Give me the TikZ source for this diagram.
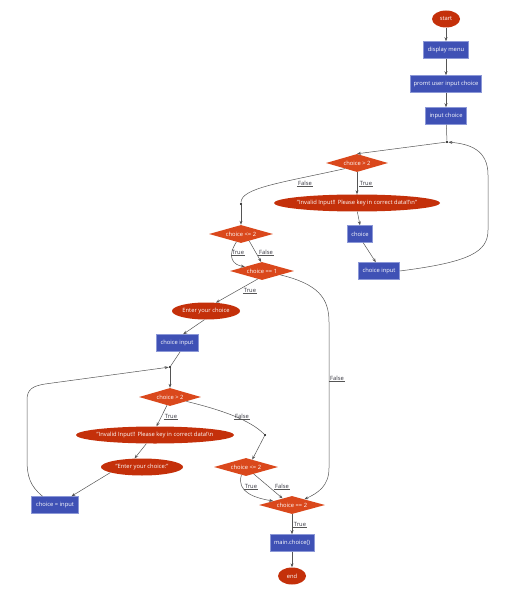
\documentclass[tikz,border=0pt]{standalone}
\usepackage{fontspec}
\setmainfont{Open Sans}
\usetikzlibrary{shapes.geometric,arrows.meta}
\definecolor{ellred}{RGB}{196,48,10}
\definecolor{diaor}{RGB}{218,72,28}
\definecolor{rectbl}{RGB}{63,81,181}
\definecolor{rectbd}{RGB}{140,152,215}
\definecolor{edgec}{RGB}{85,85,85}
\definecolor{lblc}{RGB}{50,50,60}
\tikzset{
  txt/.style={font=\fontsize{5.8}{7}\selectfont, text=white},
  procbox/.style={txt, rectangle, fill=rectbl, draw=rectbd, line width=0.5pt, minimum height=17pt, inner xsep=2pt, inner ysep=0pt},
  termell/.style={txt, ellipse, fill=ellred, draw=none, minimum height=17pt, inner xsep=-3pt, inner ysep=0pt},
  decdia/.style={txt, diamond, fill=diaor, draw=none, minimum height=18pt, inner sep=0pt, aspect=3.5},
  jdot/.style={circle, fill=black, inner sep=0pt, minimum size=2.4pt},
  edge/.style={draw=edgec, line width=0.5pt},
  arr/.style={edge, -{Stealth[length=4pt,width=3pt]}},
  lbl/.style={font=\fontsize{5.8}{7}\selectfont, text=lblc, inner xsep=1pt, inner ysep=1.2pt},
  uline/.style={draw=edgec, line width=0.4pt}
}
\begin{document}
\begin{tikzpicture}[x=1pt,y=-1pt]
\useasboundingbox (0,0) rectangle (508,593);
% ---- top column
\node[termell, minimum width=28pt] (start) at (446,19) {start};
\node[procbox, minimum width=45pt] (dm) at (446,50) {display menu};
\node[procbox, minimum width=71pt] (pu) at (446,84) {promt user input choice};
\node[procbox, minimum width=41pt] (ic) at (446,116) {input choice};
\node[jdot] (j1) at (447,142) {};
\node[decdia, minimum width=62pt] (d1) at (357,163) {choice > 2};
\node[termell, minimum width=166pt] (e1) at (357,203) {"Invalid Input!! Please key in correct data!!\textbackslash n"};
\node[procbox, minimum width=25pt] (c1) at (360,234) {choice};
\node[procbox, minimum width=41pt] (ci1) at (379,271) {choice input};
\node[jdot] (j2) at (241,204) {};
\node[decdia, minimum width=64pt] (d2) at (241,234) {choice <= 2};
\node[decdia, minimum width=64pt] (d3) at (262,271) {choice == 1};
\node[termell, minimum width=68pt] (e2) at (206,311) {Enter your choice};
\node[procbox, minimum width=42pt] (ci2) at (177,343) {choice input};
\node[jdot] (j3) at (170,367) {};
\node[decdia, minimum width=62pt] (d4) at (170,397) {choice > 2};
\node[termell, minimum width=158pt] (e3) at (155,435) {"Invalid Input!! Please key in correct data!\textbackslash n};
\node[termell, minimum width=82pt] (e4) at (142,467) {"Enter your choice:"};
\node[procbox, minimum width=47pt] (ci3) at (55,505) {choice = input};
\node[jdot] (j4) at (265,435) {};
\node[decdia, minimum width=64pt] (d6) at (246,467) {choice <= 2};
\node[decdia, minimum width=66pt] (d5) at (292,505) {choice == 2};
\node[procbox, minimum width=44pt] (mc) at (292,543) {main.choice()};
\node[termell, minimum width=28pt] (end) at (292,576) {end};
% ---- edges
\draw[arr] (start) -- (dm);
\draw[arr] (dm) -- (pu);
\draw[arr] (pu) -- (ic);
\draw[edge] (ic) -- (j1);
\draw[arr] (j1) -- (d1.north);
\draw[edge] (d1.205) .. controls (280,183) and (241,188) .. (j2);
\draw[arr] (d1.south) -- (e1.north);
\draw[arr] (e1.-88) -- (c1.north);
\draw[arr] (c1.-70) -- (ci1.110);
\draw[arr] (ci1.east) .. controls (470,262) and (488,252) .. (488,230) -- (488,175) .. controls (488,150) and (470,144) .. (j1);
\draw[arr] (j2) -- (d2.north);
\draw[arr] (d2.-120) .. controls (226,258) and (234,265) .. (d3.166);
\draw[arr] (d2.-40) -- (d3.95);
\draw[arr] (d3.-118) -- (e2.40);
\draw[arr] (d3.-12) .. controls (318,284) and (329,298) .. (329,322) -- (329,468) .. controls (329,486) and (318,493) .. (d5.25);
\draw[arr] (e2.-100) -- (ci2.55);
\draw[edge] (ci2.-70) -- (j3);
\draw[arr] (j3) -- (d4.north);
\draw[arr] (d4.-110) -- (e3.80);
\draw[edge] (d4.-15) .. controls (222,410) and (250,420) .. (j4);
\draw[arr] (j4) -- (d6.50);
\draw[arr] (e3.-135) -- (e4.131);
\draw[arr] (e4.-170) -- (ci3.28);
\draw[arr] (ci3.145) .. controls (30,486) and (27,476) .. (27,460) -- (27,400) .. controls (27,389) and (33,386) .. (45,384) -- (j3);
\draw[arr] (d6.-120) .. controls (236,492) and (255,498) .. (d5.168);
\draw[arr] (d6.-42) -- (d5.145);
\draw[arr] (d5.south) -- (mc.north);
\draw[arr] (mc) -- (end);
% ---- labels
\node[lbl] (l1) at (305,183) {False};
\node[lbl] (l2) at (366,183) {True};
\node[lbl] (l3) at (238,252) {True};
\node[lbl] (l4) at (266,252) {False};
\node[lbl] (l5) at (250,290) {True};
\node[lbl] (l6) at (337,378) {False};
\node[lbl] (l7) at (171,416) {True};
\node[lbl] (l8) at (242,416) {False};
\node[lbl] (l9) at (251,486) {True};
\node[lbl] (l10) at (282,486) {False};
\node[lbl] (l11) at (300,524) {True};
\foreach \n in {l1,l2,l3,l4,l5,l6,l7,l8,l9,l10,l11}
  \draw[uline] (\n.south west) -- (\n.south east);
\end{tikzpicture}
\end{document}
